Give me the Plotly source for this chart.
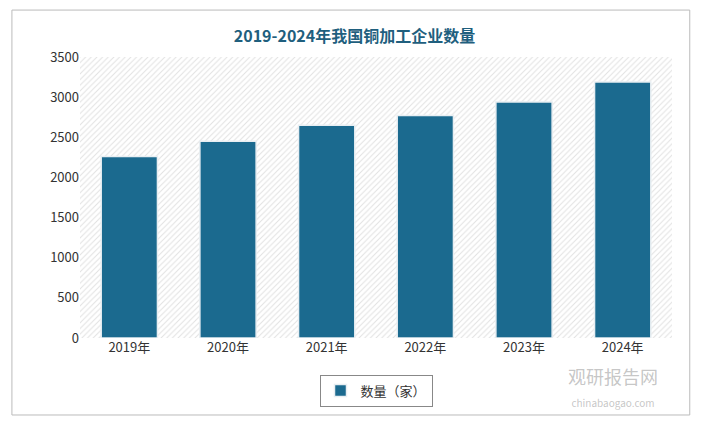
import plotly.graph_objects as go

years = ["2019年", "2020年", "2021年", "2022年", "2023年", "2024年"]
counts = [2260, 2450, 2650, 2770, 2940, 3190]
y_ticks = [0, 500, 1000, 1500, 2000, 2500, 3000, 3500]

fig = go.Figure()

# hatched plot background drawn as one wide bar on the hidden base axis
fig.add_trace(go.Bar(
    x=[0], y=[max(y_ticks)], width=[1], xaxis="x",
    marker=dict(color="white", line=dict(width=0),
                pattern=dict(shape="/", fgcolor="#c4c4c4", size=4, solidity=0.25)),
    showlegend=False, hoverinfo="skip",
))

fig.add_trace(go.Bar(
    x=years, y=counts, name="数量（家）", width=0.57, xaxis="x2",
    marker=dict(color="#1b6a8f", line=dict(color="#e8eef2", width=1.5)),
))

fig.update_layout(
    width=693, height=419,
    paper_bgcolor="white", plot_bgcolor="white",
    margin=dict(l=72, r=29, t=49, b=89),
    font=dict(family="Noto Sans CJK SC", size=13, color="#333"),
    title=dict(text="<b>2019-2024年我国铜加工企业数量</b>", x=0.5, y=0.945,
               xanchor="center", font=dict(size=16, color="#1f5f7e")),
    xaxis=dict(range=[-0.5, 0.5], visible=False),
    xaxis2=dict(overlaying="x", side="bottom", anchor="y", showgrid=False,
                showline=False, ticks="", tickfont=dict(size=13)),
    yaxis=dict(range=[0, 3500], tickvals=y_ticks, showgrid=False, zeroline=False,
               tickfont=dict(size=13), ticksuffix="  "),
    barmode="overlay",
    legend=dict(orientation="h", x=0.5, xanchor="center", y=-0.13, yanchor="top",
                bordercolor="#888", borderwidth=1, font=dict(size=13)),
    shapes=[dict(type="rect", xref="paper", yref="paper", x0=-0.115, x1=1.03,
                 y0=-0.274, y1=1.167, line=dict(color="#bbbbbb", width=1))],
    annotations=[dict(text="观研报告网<br><span style='font-size:10px'>chinabaogao.com</span>",
                      xref="paper", yref="paper", x=0.98, y=-0.265, xanchor="right",
                      yanchor="bottom", showarrow=False,
                      font=dict(size=18, color="rgba(150,150,150,0.55)"))],
)

fig.write_html("out.html")
